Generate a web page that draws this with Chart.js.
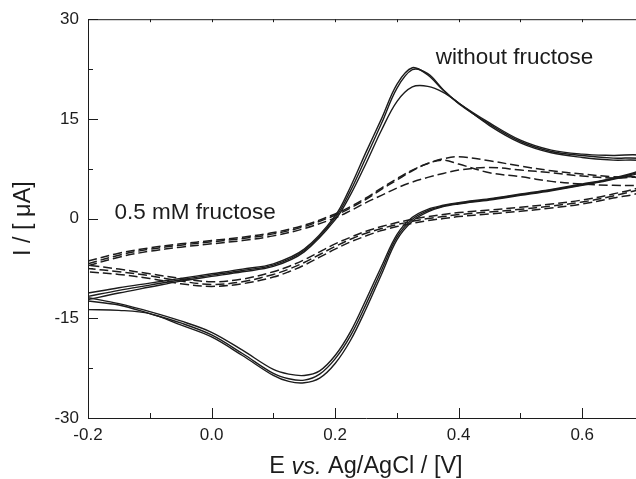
<!DOCTYPE html>
<html>
<head>
<meta charset="utf-8">
<script src="https://cdn.jsdelivr.net/npm/chart.js@4"></script>
<style>
  html, body { margin: 0; padding: 0; background: #fff; overflow: hidden; }
  #wrap { width: 660px; height: 479px; }
</style>
</head>
<body>
<div id="wrap"><canvas id="cv"></canvas></div>
<script>
// Potential grid (V) for the anodic (forward) and cathodic (reverse) sweeps
const fwdE = [-0.2, -0.15, -0.1, -0.05, 0.0, 0.05, 0.1, 0.15, 0.2, 0.225, 0.25, 0.275, 0.3, 0.325, 0.35, 0.375, 0.4, 0.45, 0.5, 0.55, 0.6, 0.65, 0.7];
const revE = [0.7, 0.65, 0.6, 0.55, 0.5, 0.45, 0.4, 0.375, 0.35, 0.325, 0.3, 0.275, 0.25, 0.225, 0.2, 0.175, 0.15, 0.125, 0.1, 0.05, 0.0, -0.05, -0.1, -0.15, -0.2];

// Without fructose (solid), three cycles, current in µA
const noFruFwd1 = [-11.2, -10.4, -9.7, -9.0, -8.3, -7.6, -6.8, -4.6, 0.4, 4.8, 10.0, 15.0, 20.2, 22.7, 21.6, 19.3, 17.4, 14.4, 11.8, 10.3, 9.7, 9.5, 9.4];
const noFruFwd2 = [-11.7, -10.8, -10.0, -9.2, -8.5, -7.8, -7.0, -4.8, 0.1, 4.2, 9.2, 14.3, 19.6, 22.4, 21.8, 19.4, 17.3, 14.2, 11.6, 10.1, 9.5, 9.1, 8.9];
const noFruFwd3 = [-12.2, -11.2, -10.3, -9.4, -8.7, -8.0, -7.2, -5.0, -0.2, 3.6, 8.3, 13.3, 17.6, 19.8, 19.9, 19.0, 17.4, 14.0, 11.4, 9.9, 9.2, 8.8, 8.6];
const noFruRev1 = [7.6, 6.1, 5.2, 4.4, 3.7, 3.0, 2.4, 2.0, 1.4, 0.2, -2.4, -7.2, -12.2, -17.0, -20.6, -22.9, -23.6, -23.4, -22.7, -19.8, -17.1, -15.4, -14.0, -12.8, -11.9];
const noFruRev2 = [7.4, 6.0, 5.1, 4.3, 3.6, 2.9, 2.3, 1.9, 1.2, -0.1, -2.8, -7.8, -12.9, -17.6, -21.1, -23.4, -24.3, -24.1, -23.3, -20.3, -17.5, -15.7, -14.3, -13.0, -12.4];
const noFruRev3 = [7.2, 5.9, 5.0, 4.2, 3.5, 2.8, 2.2, 1.8, 1.0, -0.4, -3.2, -8.4, -13.6, -18.3, -21.8, -24.0, -24.7, -24.5, -23.6, -20.6, -17.8, -16.0, -14.3, -13.8, -13.7];

// 0.5 mM fructose (dashed), three cycles
const fruFwd1 = [-6.4, -5.2, -4.4, -3.8, -3.3, -2.8, -2.1, -1.0, 0.7, 1.8, 3.1, 4.6, 6.0, 7.3, 8.3, 9.0, 9.3, 8.7, 7.9, 7.2, 6.7, 6.3, 6.1];
const fruFwd2 = [-6.8, -5.5, -4.6, -4.0, -3.5, -3.0, -2.3, -1.2, 0.5, 1.6, 2.9, 4.4, 5.8, 7.2, 8.3, 8.8, 8.2, 6.9, 6.3, 5.6, 5.2, 5.0, 4.9];
const fruFwd3 = [-7.1, -5.8, -4.9, -4.3, -3.8, -3.3, -2.6, -1.5, 0.1, 1.2, 2.4, 3.5, 4.6, 5.5, 6.2, 6.8, 7.3, 7.7, 7.3, 6.9, 6.4, 6.1, 6.0];
const fruRev1 = [5.0, 3.7, 2.8, 2.2, 1.7, 1.3, 0.9, 0.6, 0.3, -0.1, -0.6, -1.2, -1.9, -2.8, -3.8, -5.0, -6.2, -7.2, -8.0, -9.1, -9.5, -9.0, -8.3, -7.6, -7.0];
const fruRev2 = [4.6, 3.4, 2.5, 1.9, 1.4, 1.0, 0.6, 0.3, 0.0, -0.4, -0.9, -1.5, -2.2, -3.1, -4.2, -5.4, -6.6, -7.6, -8.4, -9.5, -9.9, -9.4, -8.6, -8.0, -7.5];
const fruRev3 = [4.2, 3.1, 2.2, 1.6, 1.1, 0.7, 0.3, 0.0, -0.3, -0.7, -1.2, -1.8, -2.6, -3.5, -4.6, -5.8, -7.0, -8.0, -8.8, -9.8, -10.2, -9.8, -9.0, -8.4, -8.0];

// Axis ticks
const xTicks = [-0.2, 0.0, 0.2, 0.4, 0.6];
const xMinor = [-0.1, 0.1, 0.3, 0.5];
const yTicks = [-30, -15, 0, 15, 30];
const yMinor = [-22.5, -7.5, 7.5, 22.5];

const INK = '#1c1c1c';
const FONT = "'Liberation Sans', Arial, sans-serif";

function loop(fwd, rev) {
    return fwdE.map((e, i) => ({ x: e, y: fwd[i] }))
        .concat(revE.map((e, i) => ({ x: e, y: rev[i] })));
}

function curve(fwd, rev, dashed) {
    return {
        data: loop(fwd, rev),
        showLine: true,
        borderColor: INK,
        borderWidth: dashed ? 1.5 : 1.4,
        borderDash: dashed ? [9, 4] : [],
        tension: 0.35,
        pointRadius: 0,
        fill: false
    };
}

// frame top line, inward tick marks, x title with italic "vs.", curve labels
const frame = {
    id: 'frame',
    afterDraw(chart) {
        const { ctx, chartArea: a, scales: { x, y } } = chart;
        ctx.save();
        ctx.strokeStyle = INK;
        ctx.lineWidth = 1;
        ctx.beginPath();
        ctx.moveTo(a.left, a.top + 0.5);
        ctx.lineTo(a.right, a.top + 0.5);

        xTicks.concat(xMinor).forEach(v => {
            const px = Math.round(x.getPixelForValue(v)) + 0.5;
            const len = xTicks.includes(v) ? 10 : 5;
            ctx.moveTo(px, a.bottom);
            ctx.lineTo(px, a.bottom - len);
            ctx.moveTo(px, a.top);
            ctx.lineTo(px, a.top + 3);
        });
        yTicks.concat(yMinor).forEach(v => {
            const py = Math.round(y.getPixelForValue(v)) + 0.5;
            const len = yTicks.includes(v) ? 10 : 5;
            ctx.moveTo(a.left, py);
            ctx.lineTo(a.left + len, py);
        });
        ctx.stroke();

        // x axis title
        const parts = [['E ', ''], ['vs.', 'italic '], [' Ag/AgCl / [V]', '']];
        const size = 23.5;
        let total = 0;
        parts.forEach(p => {
            ctx.font = p[1] + size + 'px ' + FONT;
            total += ctx.measureText(p[0]).width;
        });
        let cx = (a.left + a.right) / 2 - total / 2;
        ctx.fillStyle = INK;
        ctx.textBaseline = 'middle';
        ctx.textAlign = 'left';
        parts.forEach(p => {
            ctx.font = p[1] + size + 'px ' + FONT;
            ctx.fillText(p[0], cx, 467);
            cx += ctx.measureText(p[0]).width;
        });

        // curve labels
        ctx.font = '22.5px ' + FONT;
        ctx.textBaseline = 'alphabetic';
        ctx.fillText('without fructose', x.getPixelForValue(0.363), y.getPixelForValue(23.2));
        ctx.fillText('0.5 mM fructose', x.getPixelForValue(-0.157), y.getPixelForValue(0));
        ctx.restore();
    }
};

new Chart(document.getElementById('cv'), {
    type: 'scatter',
    data: {
        datasets: [
            curve(noFruFwd1, noFruRev1, false),
            curve(noFruFwd2, noFruRev2, false),
            curve(noFruFwd3, noFruRev3, false),
            curve(fruFwd1, fruRev1, true),
            curve(fruFwd2, fruRev2, true),
            curve(fruFwd3, fruRev3, true)
        ]
    },
    options: {
        responsive: true,
        maintainAspectRatio: false,
        animation: false,
        layout: { padding: { top: 19, right: 16, bottom: 0, left: 0 } },
        plugins: { legend: { display: false }, tooltip: { enabled: false } },
        scales: {
            x: {
                type: 'linear',
                min: -0.2,
                max: 0.7,
                afterBuildTicks: s => { s.ticks = xTicks.map(v => ({ value: v })); },
                afterFit: s => { s.height = 61; },
                grid: { display: false, drawTicks: false },
                border: { display: true, color: INK, width: 1 },
                ticks: {
                    padding: 7, color: INK, maxRotation: 0, autoSkip: false,
                    font: { family: FONT, size: 17 },
                    callback: v => v.toFixed(1)
                }
            },
            y: {
                type: 'linear',
                min: -30,
                max: 30,
                afterBuildTicks: s => { s.ticks = yTicks.map(v => ({ value: v })); },
                afterFit: s => { s.width = 88; },
                grid: { display: false, drawTicks: false },
                border: { display: true, color: INK, width: 1 },
                ticks: {
                    padding: 9, color: INK, autoSkip: false,
                    font: { family: FONT, size: 17 },
                    callback: v => String(v)
                },
                title: {
                    display: true,
                    text: 'I / [ μA]',
                    color: INK,
                    font: { family: FONT, size: 23.5 },
                    padding: { top: 9, bottom: 0 }
                }
            }
        }
    },
    plugins: [frame]
});
</script>
</body>
</html>
